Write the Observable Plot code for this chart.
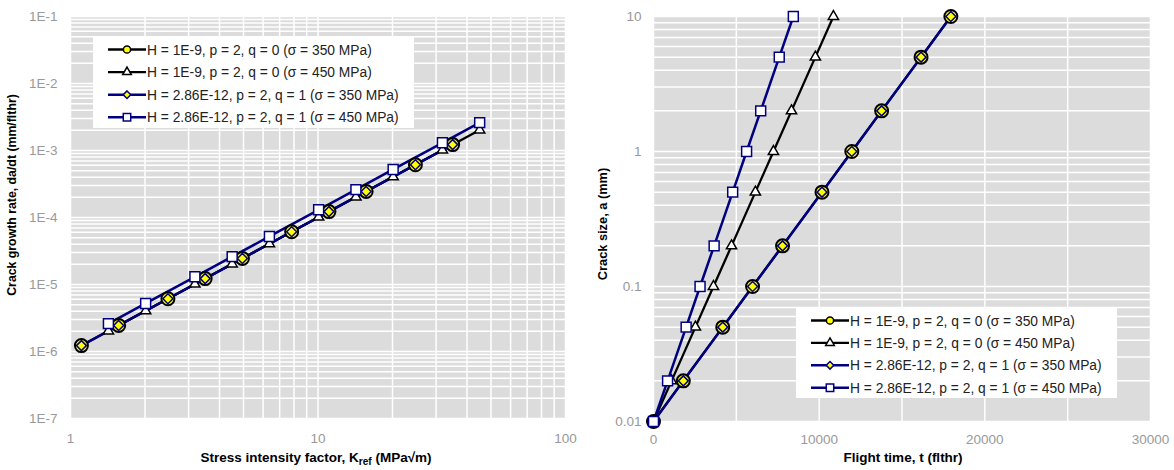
<!DOCTYPE html>
<html><head><meta charset="utf-8">
<script src="https://cdn.jsdelivr.net/npm/d3@7"></script>
<script src="https://cdn.jsdelivr.net/npm/@observablehq/plot@0.6"></script>
<style>
body{margin:0;background:#fff;font-family:"Liberation Sans",Arial,sans-serif;}
#wrap{display:flex;width:1174px;height:470px;overflow:hidden;}
#wrap svg{overflow:visible;display:block;}
</style></head><body><div id="wrap"></div>
<script>
// ---------- data ----------
const seriesNames = [
  "H = 1E-9, p = 2, q = 0 (σ = 350 MPa)",
  "H = 1E-9, p = 2, q = 0 (σ = 450 MPa)",
  "H = 2.86E-12, p = 2, q = 1 (σ = 350 MPa)",
  "H = 2.86E-12, p = 2, q = 1 (σ = 450 MPa)"
];
const crackSizeMm = [0.01, 0.02, 0.05, 0.1, 0.2, 0.5, 1, 2, 5, 10];
const kRef350 = [1.107, 1.565, 2.475, 3.5, 4.95, 7.826, 11.07, 15.65, 24.75, 35.0];
const kRef450 = [1.423, 2.012, 3.182, 4.5, 6.364, 10.06, 14.23, 20.12, 31.82, 45.0];
const rateS1 = [1.225e-6, 2.45e-6, 6.125e-6, 1.225e-5, 2.45e-5, 6.125e-5, 1.225e-4, 2.45e-4, 6.125e-4, 1.225e-3];
const rateS2 = [2.025e-6, 4.05e-6, 1.0125e-5, 2.025e-5, 4.05e-5, 1.0125e-4, 2.025e-4, 4.05e-4, 1.0125e-3, 2.025e-3];
const rateS3 = [1.225e-6, 2.45e-6, 6.125e-6, 1.225e-5, 2.45e-5, 6.125e-5, 1.225e-4, 2.45e-4, 6.125e-4, 1.225e-3];
const rateS4 = [2.606e-6, 5.21e-6, 1.303e-5, 2.606e-5, 5.21e-5, 1.303e-4, 2.606e-4, 5.21e-4, 1.303e-3, 2.606e-3];
const timeS1 = [0, 1800, 4180, 5980, 7790, 10170, 11970, 13770, 16150, 17950];
const timeS2 = [0, 1090, 2530, 3620, 4710, 6150, 7240, 8330, 9770, 10860];
const timeS3 = [0, 1800, 4180, 5980, 7790, 10170, 11970, 13770, 16150, 17950];
const timeS4 = [0, 850, 1970, 2810, 3660, 4780, 5620, 6470, 7590, 8440];
const leftXTicks = [1, 10, 100];
const leftYTicks = [1e-7, 1e-6, 1e-5, 1e-4, 1e-3, 1e-2, 1e-1];
const rightXTicks = [0, 10000, 20000, 30000];
const rightXGrid = [0, 5000, 10000, 15000, 20000, 25000, 30000];
const rightYTicks = [0.01, 0.1, 1, 10];

// ---------- styles ----------
const styles = [
  {line:"#000000", lw:2.3, symbol:"circle",   d3s:d3.symbolCircle,   fill:"#ffff00", stroke:"#000000", r:6.5, sw:2,   lr:3.6},
  {line:"#000000", lw:2.3, symbol:"triangle", d3s:d3.symbolTriangle, fill:"#ffffff", stroke:"#000000", r:3.8, sw:1.5, lr:3.2},
  {line:"#000080", lw:2.5, symbol:"diamond2", d3s:d3.symbolDiamond2, fill:"#ffff00", stroke:"#000080", r:4.5, sw:1.5, lr:3.4},
  {line:"#000080", lw:2.5, symbol:"square",   d3s:d3.symbolSquare,   fill:"#ffffff", stroke:"#000080", r:5.6, sw:1.5, lr:4.2}
];

const kSets = [kRef350, kRef450, kRef350, kRef450];
const rateSets = [rateS1, rateS2, rateS3, rateS4];
const timeSets = [timeS1, timeS2, timeS3, timeS4];

const leftRows = seriesNames.map((s, i) => kSets[i].map((k, j) => ({s: i, x: k, y: rateSets[i][j]})));
const rightRows = seriesNames.map((s, i) => timeSets[i].map((t, j) => ({s: i, x: t, y: crackSizeMm[j]})));

const FONT = "'Liberation Sans', Arial, sans-serif";

function seriesMarks(rows) {
  const lines = rows.map((r, i) => Plot.line(r, {x:"x", y:"y", stroke: styles[i].line, strokeWidth: styles[i].lw}));
  const dots = rows.map((r, i) => Plot.dot(r, {x:"x", y:"y", symbol: styles[i].symbol, r: styles[i].r,
      fill: styles[i].fill, stroke: styles[i].stroke, strokeWidth: styles[i].sw}));
  return [...lines, ...dots];
}

function addLegend(svg, x0, y0, w, h, rowY0, rowStep) {
  const g = d3.select(svg).append("g").attr("text-anchor", "start");
  g.append("rect").attr("x", x0).attr("y", y0).attr("width", w).attr("height", h).attr("fill", "#fff");
  seriesNames.forEach((name, i) => {
    const st = styles[i];
    const y = rowY0 + i * rowStep;
    g.append("line").attr("x1", x0 + 15).attr("x2", x0 + 53).attr("y1", y).attr("y2", y)
      .attr("stroke", st.line).attr("stroke-width", st.lw);
    g.append("path").attr("transform", `translate(${x0 + 34},${y})`)
      .attr("d", d3.symbol(st.d3s, Math.PI * st.lr * st.lr)())
      .attr("fill", st.fill).attr("stroke", st.stroke).attr("stroke-width", 1.5);
    g.append("text").attr("x", x0 + 54).attr("y", y + 5).attr("fill", "#222")
      .attr("text-anchor", "start")
      .attr("font-size", 13.8).attr("font-family", FONT).text(name);
  });
}

function addTitle(svg, x, y, rotate, size, parts) {
  const t = d3.select(svg).append("text")
    .attr("transform", `translate(${x},${y})` + (rotate ? " rotate(-90)" : ""))
    .attr("text-anchor", "middle").attr("font-size", size).attr("font-weight", "bold")
    .attr("font-family", FONT).attr("fill", "#000");
  parts.forEach(p => {
    const ts = t.append("tspan").text(p.text);
    if (p.sub) ts.attr("font-size", size * 0.75).attr("dy", 3);
    if (p.after) ts.attr("dy", -3);
  });
}

const wrap = document.getElementById("wrap");

// ---------- left chart ----------
const left = Plot.plot({
  width: 587, height: 470,
  marginLeft: 70, marginRight: 22, marginTop: 16, marginBottom: 52,
  style: {fontFamily: FONT, fontSize: "13.5px", color: "#999", background: "#fff"},
  x: {type: "log", domain: [1, 100], ticks: leftXTicks, tickFormat: d => String(d), tickSize: 0, tickPadding: 15, label: null},
  y: {type: "log", domain: [1e-7, 1e-1], ticks: leftYTicks, tickFormat: d => "1E" + Math.round(Math.log10(d)), tickSize: 0, tickPadding: 13, label: null},
  marks: [
    Plot.frame({fill: "#dcdcdc", stroke: "none"}),
    Plot.ruleX(d3.scaleLog().domain([1, 100]).ticks(), {stroke: "#fff", strokeWidth: 1.5}),
    Plot.ruleY(d3.scaleLog().domain([1e-7, 1e-1]).ticks(), {stroke: "#fff", strokeWidth: 1.5}),
    ...seriesMarks(leftRows)
  ]
});
wrap.appendChild(left);
addLegend(left, 93, 37, 321, 91, 49.5, 22.6);
addTitle(left, 316, 462, false, 13.5, [{text: "Stress intensity factor, K"}, {text: "ref", sub: true}, {text: " (MPa√m)", after: true}]);
addTitle(left, 16, 195, true, 12.3, [{text: "Crack growth rate, da/dt (mm/flthr)"}]);

// ---------- right chart ----------
const right = Plot.plot({
  width: 587, height: 470,
  marginLeft: 66, marginRight: 24, marginTop: 16, marginBottom: 49,
  style: {fontFamily: FONT, fontSize: "13.5px", color: "#999", background: "#fff"},
  x: {type: "linear", domain: [0, 30000], ticks: rightXTicks, tickFormat: d => String(d), tickSize: 0, tickPadding: 13, label: null},
  y: {type: "log", domain: [0.01, 10], ticks: rightYTicks, tickFormat: d => String(d), tickSize: 0, tickPadding: 12, label: null},
  marks: [
    Plot.frame({fill: "#dcdcdc", stroke: "none"}),
    Plot.ruleX(rightXGrid, {stroke: "#fff", strokeWidth: 1.5}),
    Plot.ruleY(d3.scaleLog().domain([0.01, 10]).ticks(), {stroke: "#fff", strokeWidth: 1.5}),
    ...seriesMarks(rightRows)
  ]
});
wrap.appendChild(right);
addLegend(right, 209, 308, 321, 90, 320.5, 22.4);
addTitle(right, 316, 462, false, 13.5, [{text: "Flight time, t (flthr)"}]);
addTitle(right, 20, 224, true, 12.8, [{text: "Crack size, a (mm)"}]);
</script>
</body></html>
